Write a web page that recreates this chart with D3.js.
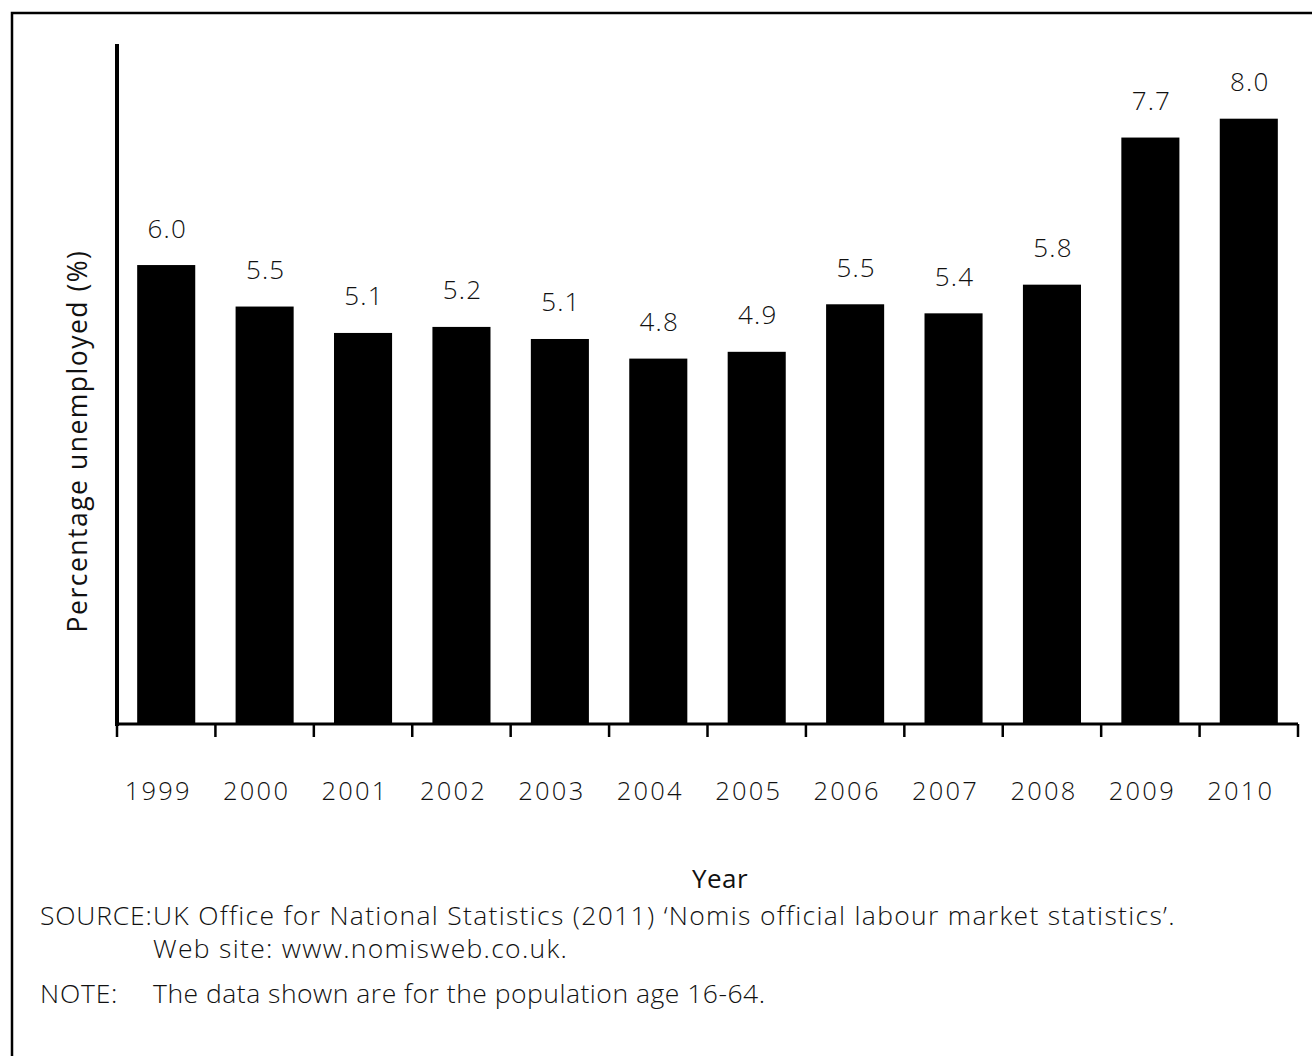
<!DOCTYPE html>
<html>
<head>
<meta charset="utf-8">
<script src="https://cdn.jsdelivr.net/npm/d3@7"></script>
<style>
  html, body { margin: 0; padding: 0; background: #fff; }
  svg { display: block; }
  text { font-family: "Open Sans", "Noto Sans", sans-serif; fill: #111; }
</style>
</head>
<body>
<svg id="chart" width="1312" height="1056"></svg>
<script>
// ---- data ----
const years = ["1999","2000","2001","2002","2003","2004","2005","2006","2007","2008","2009","2010"];
const values = [6.07, 5.52, 5.17, 5.25, 5.09, 4.83, 4.92, 5.55, 5.43, 5.81, 7.76, 8.01];
const valueLabels = ["6.0","5.5","5.1","5.2","5.1","4.8","4.9","5.5","5.4","5.8","7.7","8.0"];
const yTitle = "Percentage unemployed (%)";
const xTitle = "Year";
const sourceLabel = "SOURCE:";
const sourceLines = ["UK Office for National Statistics (2011) \u2018Nomis official labour market statistics\u2019.", "Web site: www.nomisweb.co.uk."];
const noteLabel = "NOTE:";
const noteText = "The data shown are for the population age 16-64.";

// ---- layout ----
const svg = d3.select("#chart");
const x0 = 117, x1 = 1298, yBase = 723, yTop = 44;

const x = d3.scaleBand().domain(years).range([x0, x1]).paddingInner(0.41).paddingOuter(0.205);
const y = d3.scaleLinear().domain([0, 9]).range([yBase, yTop]);

// frame
svg.append("rect").attr("x", 12).attr("y", 13).attr("width", 1400).attr("height", 1100)
  .attr("fill", "none").attr("stroke", "#000").attr("stroke-width", 2.5);

// bars
svg.append("g").selectAll("rect").data(years).join("rect")
  .attr("x", d => x(d))
  .attr("width", x.bandwidth())
  .attr("y", (d, i) => y(values[i]))
  .attr("height", (d, i) => y(0) - y(values[i]))
  .attr("fill", "#000");

// value labels
svg.append("g").selectAll("text").data(years).join("text")
  .attr("x", d => x(d) + x.bandwidth() / 2 + 1)
  .attr("y", (d, i) => y(values[i]) - 27.5)
  .attr("text-anchor", "middle")
  .style("font-size", "26px")
  .style("font-weight", 300)
  .style("letter-spacing", "1.2px")
  .text((d, i) => valueLabels[i]);

// y axis line
svg.append("line").attr("x1", x0).attr("x2", x0).attr("y1", yTop).attr("y2", 726)
  .attr("stroke", "#000").attr("stroke-width", 4);

// x axis line
svg.append("line").attr("x1", x0 - 2).attr("x2", x1).attr("y1", 724).attr("y2", 724)
  .attr("stroke", "#000").attr("stroke-width", 3);

// tick marks at band boundaries
const step = x.step();
const tickPos = years.map(d => x(d) - (step - x.bandwidth()) / 2).concat([x1]);
svg.append("g").selectAll("line").data(tickPos).join("line")
  .attr("x1", d => d).attr("x2", d => d)
  .attr("y1", 724).attr("y2", 737)
  .attr("stroke", "#000").attr("stroke-width", 2.5);

// tick labels
svg.append("g").selectAll("text").data(years).join("text")
  .attr("x", d => x(d) + x.bandwidth() / 2 - 8)
  .attr("y", 800)
  .attr("text-anchor", "middle")
  .style("font-size", "25.5px")
  .style("font-weight", 300)
  .style("letter-spacing", "2.2px")
  .text(d => d);

// axis titles
svg.append("text")
  .attr("transform", "translate(87,441) rotate(-90)")
  .attr("text-anchor", "middle")
  .style("font-size", "26.5px")
  .style("font-weight", 500)
  .style("letter-spacing", "1.5px")
  .text(yTitle);

svg.append("text")
  .attr("x", 720).attr("y", 888)
  .attr("text-anchor", "middle")
  .style("font-size", "26px")
  .style("font-weight", 500)
  .style("letter-spacing", "0.5px")
  .text(xTitle);

// footer
const foot = svg.append("g").style("font-size", "26.5px").style("font-weight", 300);
foot.append("text").attr("x", 40).attr("y", 925).style("letter-spacing", "0.8px").text(sourceLabel);
foot.append("text").attr("x", 153).attr("y", 925).style("letter-spacing", "1.3px").text(sourceLines[0]);
foot.append("text").attr("x", 153).attr("y", 958).style("letter-spacing", "1.3px").text(sourceLines[1]);
foot.append("text").attr("x", 40).attr("y", 1003).style("letter-spacing", "0.8px").text(noteLabel);
foot.append("text").attr("x", 153).attr("y", 1003).style("letter-spacing", "0.5px").text(noteText);
</script>
</body>
</html>
